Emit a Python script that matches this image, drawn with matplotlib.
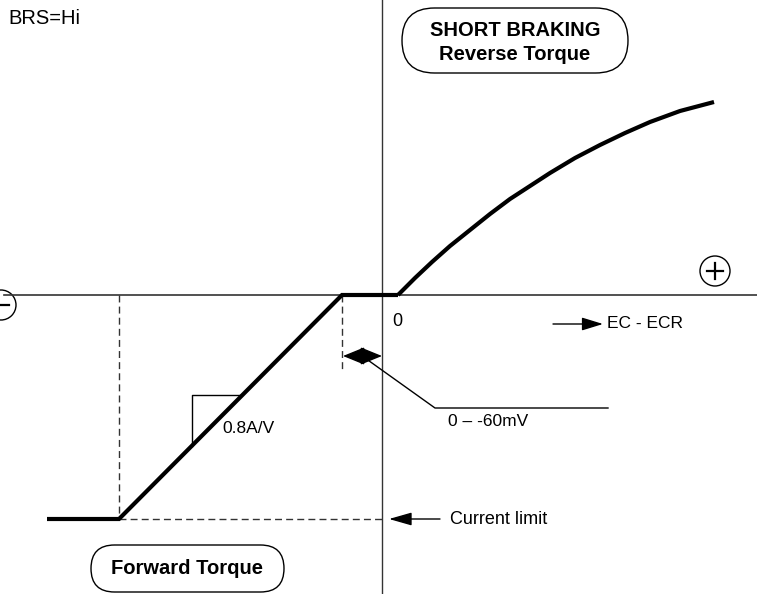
"""
Braking characteristic diagram (BRS=Hi)
Torque current vs. EC - ECR, drawn in pixel-like diagram units
"""

import numpy as np
import matplotlib
matplotlib.use('Agg')
from matplotlib import pyplot as plt
from matplotlib.patches import FancyBboxPatch, Circle, FancyArrowPatch

############################# Data #####################################################################################

# forward torque branch: current limit -> slope 0.8A/V -> dead band
forward_x = [-335, -263, -40]
forward_y = [-224, -224, 0]
# dead band 0 .. -60mV
deadband_x = [-40, 16]
deadband_y = [0, 0]
# short braking / reverse torque branch
reverse_x = [16, 33, 50, 68, 88, 108, 128, 148, 168, 193, 218, 243, 268, 298, 332]
reverse_y = [0, 17, 33, 49, 65, 81, 96, 109, 122, 137, 150, 162, 173, 184, 193]

current_limit = forward_y[0]
slope_x = -190          # left edge of the slope triangle
slope_step = 50

plt.rcParams['font.family'] = ['Liberation Sans', 'DejaVu Sans']


def arrow(ax, start, end, style='-|>', hl=1.3, hw=0.36, lw=1.0):
    """
    Filled-head arrow between two points in data units
    """
    patch = FancyArrowPatch(start, end, arrowstyle=f'{style},head_length={hl},head_width={hw}',
                            mutation_scale=10, color='k', lw=lw, shrinkA=0, shrinkB=0)
    ax.add_patch(patch)


def stadium(ax, x0, x1, y0, y1):
    """
    Rounded label box with fully round ends
    """
    h = y1 - y0
    box = FancyBboxPatch((x0, y0), x1 - x0, h, boxstyle=f'round,pad=0,rounding_size={h / 2}',
                         fc='white', ec='k', lw=1.0)
    ax.add_patch(box)


fig = plt.figure(figsize=(7.57, 5.94), dpi=100)
ax = fig.add_axes([0, 0, 1, 1])
ax.set_xlim(-382, 375)
ax.set_ylim(-299, 295)
ax.axis('off')

# axes of the diagram
ax.plot([0, 0], [-299, 295], color='#333333', lw=1.0)
ax.plot([-378, 375], [0, 0], color='#333333', lw=1.2)

# guide lines
ax.plot([forward_x[1]] * 2, [0, current_limit], color='#333333', lw=1.0, dashes=(5, 3))
ax.plot([forward_x[1], 0], [current_limit] * 2, color='#333333', lw=1.0, dashes=(5, 3))
ax.plot([forward_x[2]] * 2, [0, -75], color='#333333', lw=1.0, dashes=(5, 3))

# characteristic
ax.plot(forward_x + deadband_x[1:], forward_y + deadband_y[1:], color='k', lw=3.0,
        solid_joinstyle='miter', solid_capstyle='butt')
ax.plot(reverse_x, reverse_y, color='k', lw=3.0, solid_capstyle='butt', solid_joinstyle='round')

# slope triangle on the forward branch
k = np.polyfit(forward_x[1:], forward_y[1:], 1)
y_lo = np.polyval(k, slope_x)
y_hi = np.polyval(k, slope_x + slope_step)
ax.plot([slope_x, slope_x, slope_x + slope_step], [y_lo, y_hi, y_hi], color='k', lw=1.0)
ax.text(slope_x + 30, y_lo + 17, '0.8A/V', fontsize=12.5, ha='left', va='center')

# dead band dimension with leader
arrow(ax, (forward_x[2] + 1, -61), (0, -61), style='<|-|>', hl=1.35, hw=0.55)
ax.plot([-17, 53, 226], [-63, -113, -113], color='k', lw=1.0)
ax.text(66, -126, '0 \u2013 -60mV', fontsize=12.5, ha='left', va='center')

ax.text(10, -27, '0', fontsize=13, ha='left', va='center')

# abscissa label
arrow(ax, (171, -29), (221, -29), hl=1.3, hw=0.4)
ax.text(225, -29, 'EC - ECR', fontsize=12.5, ha='left', va='center')

# current limit marker
arrow(ax, (58, current_limit), (7, current_limit), hl=1.4, hw=0.4)
ax.text(68, current_limit, 'Current limit', fontsize=13, ha='left', va='center')

ax.text(-374, 276, 'BRS=Hi', fontsize=14.5, ha='left', va='center')

# region labels
stadium(ax, 20, 246, 222, 287)
ax.text(133, 265, 'SHORT BRAKING', fontsize=14.5, fontweight='bold', ha='center', va='center')
ax.text(133, 240, 'Reverse Torque', fontsize=14.5, fontweight='bold', ha='center', va='center')

stadium(ax, -291, -98, -297, -250)
ax.text(-195, -273, 'Forward Torque', fontsize=14.5, fontweight='bold', ha='center', va='center')

# polarity signs
ax.add_patch(Circle((333, 24), 15, fc='white', ec='k', lw=1.0))
ax.plot([325, 341], [24, 24], color='k', lw=1.6)
ax.plot([333, 333], [16, 32], color='k', lw=1.6)
ax.add_patch(Circle((-381, -10), 15, fc='white', ec='k', lw=1.0))
ax.plot([-392, -373], [-10, -10], color='k', lw=1.6)

fig.savefig('out.png', dpi=100)
